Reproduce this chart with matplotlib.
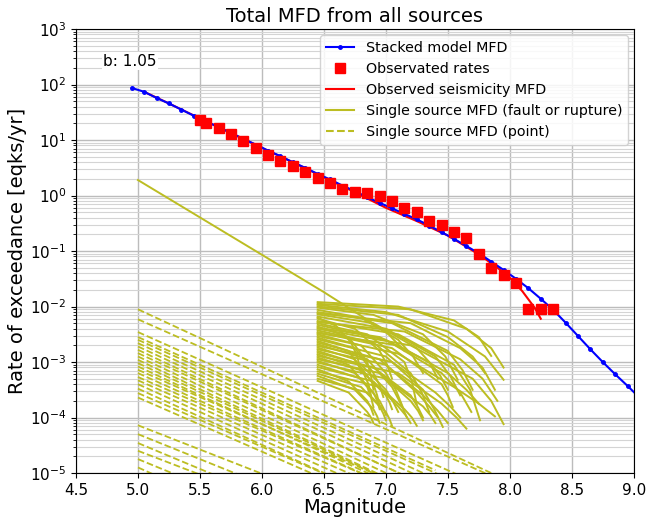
import numpy as np
import matplotlib
matplotlib.use("Agg")
import matplotlib.pyplot as plt

# ---------------- data (log10 of rate of exceedance) ----------------
model_mag = [4.95, 5.05, 5.15, 5.25, 5.35, 5.45, 5.55, 5.65, 5.75, 5.85,
             5.95, 6.05, 6.15, 6.25, 6.35, 6.45, 6.55, 6.65, 6.75, 6.85,
             6.95, 7.05, 7.15, 7.25, 7.35, 7.45, 7.55, 7.65, 7.75, 7.85,
             7.95, 8.05, 8.15, 8.25, 8.35, 8.45, 8.55, 8.65, 8.75, 8.85,
             8.95, 9.05]
model_log = [1.94, 1.87, 1.76, 1.66, 1.55, 1.44, 1.34, 1.23, 1.13, 1.02,
             0.92, 0.81, 0.71, 0.60, 0.50, 0.39, 0.29, 0.18, 0.08, -0.03,
             -0.13, -0.23, -0.33, -0.43, -0.54, -0.66, -0.78, -0.91, -1.04, -1.19,
             -1.34, -1.50, -1.67, -1.86, -2.06, -2.29, -2.53, -2.77, -3.00, -3.22,
             -3.43, -3.65]

obs_mag = [5.50, 5.55, 5.65, 5.75, 5.85, 5.95, 6.05, 6.15, 6.25, 6.35,
           6.45, 6.55, 6.65, 6.75, 6.85, 6.95, 7.05, 7.15, 7.25, 7.35,
           7.45, 7.55, 7.65, 7.75, 7.85, 7.95, 8.05, 8.15, 8.25, 8.35]
obs_log = [1.37, 1.31, 1.21, 1.11, 0.98, 0.86, 0.73, 0.62, 0.53, 0.42,
           0.32, 0.23, 0.12, 0.06, 0.04, -0.01, -0.10, -0.22, -0.30, -0.46,
           -0.53, -0.66, -0.76, -1.05, -1.31, -1.43, -1.58, -2.05, -2.05, -2.05]

seis_mag = [5.05, 5.25, 5.5, 5.75, 6.0, 6.25, 6.5, 6.75, 7.0, 7.25,
            7.5, 7.75, 7.9, 8.0, 8.1, 8.2, 8.25]
seis_log = [1.87, 1.66, 1.39, 1.13, 0.86, 0.60, 0.33, 0.06, -0.22, -0.46,
            -0.72, -1.06, -1.30, -1.48, -1.72, -2.02, -2.22]

area_mag = [5.0, 6.5, 7.0, 7.15]
area_log = [0.28, -1.74, -2.45, -2.80]

# fault / rupture sources: (mag, log10 rate) points per source
fault_sources = [
    [(6.45, -1.92), (7.10, -2.00), (7.55, -2.25), (7.75, -2.55), (7.85, -2.89)],
    [(6.45, -1.95), (7.20, -2.05), (7.65, -2.40), (7.85, -2.75), (7.95, -3.10)],
    [(6.45, -1.97), (7.00, -2.10), (7.50, -2.45), (7.80, -2.90), (7.95, -3.32)],
    [(6.45, -2.00), (7.10, -2.15), (7.50, -2.55), (7.70, -2.90), (7.80, -3.20)],
    [(6.45, -2.02), (6.90, -2.15), (7.30, -2.50), (7.48, -2.90), (7.58, -3.32)],
    [(6.45, -2.06), (6.80, -2.20), (7.10, -2.60), (7.22, -2.90), (7.30, -3.20)],
    [(6.45, -2.10), (7.05, -2.30), (7.50, -2.80), (7.62, -3.15), (7.70, -3.50)],
    [(6.45, -2.12), (7.20, -2.30), (7.60, -2.75), (7.78, -3.10), (7.88, -3.50)],
    [(6.45, -2.14), (6.90, -2.30), (7.25, -2.75), (7.35, -3.00), (7.42, -3.30)],
    [(6.45, -2.18), (7.00, -2.40), (7.40, -2.90), (7.52, -3.25), (7.60, -3.60)],
    [(6.45, -2.20), (6.60, -2.35), (6.72, -2.65), (6.77, -2.90), (6.80, -3.20)],
    [(6.45, -2.22), (6.75, -2.40), (6.95, -2.80), (7.01, -3.05), (7.05, -3.30)],
    [(6.45, -2.26), (7.10, -2.50), (7.55, -3.05), (7.68, -3.50), (7.76, -4.05)],
    [(6.45, -2.28), (7.15, -2.45), (7.60, -2.95), (7.78, -3.30), (7.90, -3.70)],
    [(6.45, -2.30), (6.85, -2.50), (7.15, -3.00), (7.21, -3.35), (7.25, -3.77)],
    [(6.45, -2.33), (7.00, -2.60), (7.45, -3.20), (7.60, -3.55), (7.69, -3.90)],
    [(6.45, -2.36), (6.70, -2.55), (6.85, -3.00), (6.88, -3.25), (6.90, -3.50)],
    [(6.45, -2.38), (6.95, -2.55), (7.35, -3.00), (7.44, -3.25), (7.50, -3.50)],
    [(6.45, -2.40), (7.20, -2.70), (7.70, -3.30), (7.85, -3.70), (7.95, -4.12)],
    [(6.45, -2.43), (6.90, -2.65), (7.20, -3.20), (7.29, -3.55), (7.35, -3.90)],
    [(6.45, -2.46), (7.05, -2.75), (7.45, -3.40), (7.50, -3.60), (7.54, -3.81)],
    [(6.45, -2.48), (7.10, -2.70), (7.50, -3.20), (7.65, -3.50), (7.75, -3.75)],
    [(6.45, -2.50), (6.80, -2.70), (7.00, -3.20), (7.08, -3.50), (7.14, -3.83)],
    [(6.45, -2.53), (7.10, -2.85), (7.55, -3.45), (7.75, -3.75), (7.88, -3.98)],
    [(6.45, -2.56), (6.75, -2.75), (6.90, -3.20), (6.95, -3.42), (6.98, -3.63)],
    [(6.45, -2.59), (7.00, -2.90), (7.30, -3.50), (7.39, -3.85), (7.46, -4.17)],
    [(6.45, -2.62), (6.70, -2.80), (6.82, -3.20), (6.86, -3.40), (6.88, -3.60)],
    [(6.45, -2.65), (6.95, -2.95), (7.25, -3.55), (7.35, -3.80), (7.42, -4.00)],
    [(6.45, -2.68), (6.85, -2.95), (7.05, -3.45), (7.12, -3.75), (7.17, -4.00)],
    [(6.45, -2.71), (7.05, -3.00), (7.40, -3.55), (7.52, -3.80), (7.60, -4.00)],
    [(6.45, -2.74), (6.75, -2.95), (6.90, -3.40), (6.93, -3.60), (6.95, -3.80)],
    [(6.45, -2.77), (7.00, -3.05), (7.30, -3.60), (7.42, -3.88), (7.50, -4.10)],
    [(6.45, -2.80), (6.80, -3.05), (7.00, -3.50), (7.06, -3.72), (7.10, -3.90)],
    [(6.45, -2.83), (6.90, -3.10), (7.20, -3.60), (7.26, -3.82), (7.30, -4.00)],
    [(6.45, -2.86), (6.70, -3.05), (6.85, -3.45), (6.88, -3.63), (6.90, -3.81)],
    [(6.45, -2.89), (7.10, -3.20), (7.45, -3.75), (7.57, -4.00), (7.65, -4.20)],
    [(6.45, -2.92), (6.80, -3.15), (7.00, -3.60), (7.03, -3.73), (7.05, -3.85)],
    [(6.45, -2.95), (6.95, -3.20), (7.20, -3.70), (7.26, -3.88), (7.30, -4.05)],
    [(6.45, -2.98), (6.75, -3.20), (6.90, -3.55), (6.93, -3.70), (6.95, -3.85)],
    [(6.45, -3.01), (7.00, -3.30), (7.30, -3.80), (7.36, -3.96), (7.40, -4.10)],
    [(6.45, -3.05), (6.80, -3.30), (6.95, -3.70), (6.98, -3.83), (7.00, -3.95)],
    [(6.45, -3.09), (6.90, -3.35), (7.10, -3.80), (7.16, -3.96), (7.20, -4.10)],
    [(6.45, -3.13), (6.70, -3.35), (6.85, -3.70), (6.88, -3.83), (6.90, -3.95)],
    [(6.45, -3.17), (6.95, -3.45), (7.15, -3.85), (7.21, -4.00), (7.25, -4.15)],
    [(6.45, -3.21), (6.80, -3.45), (6.95, -3.80), (6.98, -3.93), (7.00, -4.05)],
    [(6.45, -3.25), (6.75, -3.50), (6.90, -3.85), (6.93, -3.98), (6.95, -4.10)],
    [(6.45, -3.30), (6.85, -3.55), (7.00, -3.90), (7.03, -4.03), (7.05, -4.15)],
    [(6.45, -3.34), (6.70, -3.55), (6.85, -3.90), (6.88, -4.00), (6.90, -4.10)],
]

# point sources: start (M=5.0) and end point
point_start_mag = 5.0
point_start_log = [-2.05, -2.23, -2.46, -2.55, -2.60, -2.66, -2.72, -2.78,
                   -2.84, -2.90, -2.96, -3.02, -3.08, -3.14, -3.20, -3.27,
                   -3.33, -3.40, -3.48, -3.56, -3.64, -4.14, -4.30, -4.46,
                   -4.60, -4.75, -4.90]
point_end_mag = [7.85, 7.90, 7.75, 7.40, 7.60, 7.30, 7.50, 7.20,
                 7.40, 7.00, 7.30, 7.10, 6.90, 7.20, 6.90, 7.00,
                 6.80, 6.90, 6.70, 6.80, 6.60, 6.10, 6.00, 5.90,
                 5.70, 5.60, 5.30]
point_end_log = [-5.00, -5.10, -5.20, -4.95, -5.20, -5.00, -5.30, -5.10,
                 -5.30, -5.00, -5.40, -5.20, -5.05, -5.30, -5.10, -5.20,
                 -5.10, -5.30, -5.20, -5.30, -5.20, -5.10, -5.20, -5.30,
                 -5.20, -5.30, -5.20]

b_value_text = "b: 1.05"
xticks = [4.5, 5.0, 5.5, 6.0, 6.5, 7.0, 7.5, 8.0, 8.5, 9.0]

# ---------------- plot ----------------
olive = "#bcbd22"
fig = plt.figure(figsize=(6.46, 5.2), dpi=100)
ax = fig.add_axes([0.1176, 0.0904, 0.8634, 0.8536])

def p10(v):
    return np.power(10.0, np.asarray(v, dtype=float))

for src in fault_sources:
    m = [p[0] for p in src]
    r = [p[1] for p in src]
    ax.plot(m, p10(r), color=olive, lw=1.4, zorder=2)

for v0, me, ve in zip(point_start_log, point_end_mag, point_end_log):
    ax.plot([point_start_mag, me], p10([v0, ve]), color=olive, lw=1.3,
            ls="--", zorder=2)

ax.plot(area_mag, p10(area_log), color=olive, lw=1.4, zorder=2)

ax.plot(model_mag, p10(model_log), "b.-", lw=1.5, ms=5, zorder=4,
        label="Stacked model MFD")
ax.plot(obs_mag, p10(obs_log), "rs", ms=6.5, zorder=5, label="Observated rates")
ax.plot(seis_mag, p10(seis_log), "r-", lw=1.5, zorder=3,
        label="Observed seismicity MFD")

# legend proxies for the source MFDs
ax.plot([], [], color=olive, lw=1.5, label="Single source MFD (fault or rupture)")
ax.plot([], [], color=olive, lw=1.5, ls="--", label="Single source MFD (point)")

ax.set_yscale("log")
ax.set_xlim(4.5, 9.0)
ax.set_ylim(1e-5, 1e3)
ax.set_xticks(xticks)
ax.set_xticklabels([f"{t:.1f}" for t in xticks])
ax.grid(True, which="major", color="#bcbcbc", lw=1.0)
ax.grid(True, which="minor", axis="y", color="#d4d4d4", lw=0.8)
ax.set_axisbelow(True)
ax.tick_params(labelsize=11)

ax.text(4.72, 10 ** 2.42, b_value_text, fontsize=11, va="center", ha="left",
        bbox=dict(facecolor="white", edgecolor="none", pad=1))

ax.set_title("Total MFD from all sources", fontsize=14, pad=5)
ax.set_xlabel("Magnitude", fontsize=14, labelpad=0)
ax.set_ylabel("Rate of exceedance [eqks/yr]", fontsize=14, labelpad=2)
ax.legend(loc="upper right", fontsize=10.3, framealpha=0.85,
          borderaxespad=0.4, handlelength=2.0)

fig.savefig("out.png", dpi=100)
